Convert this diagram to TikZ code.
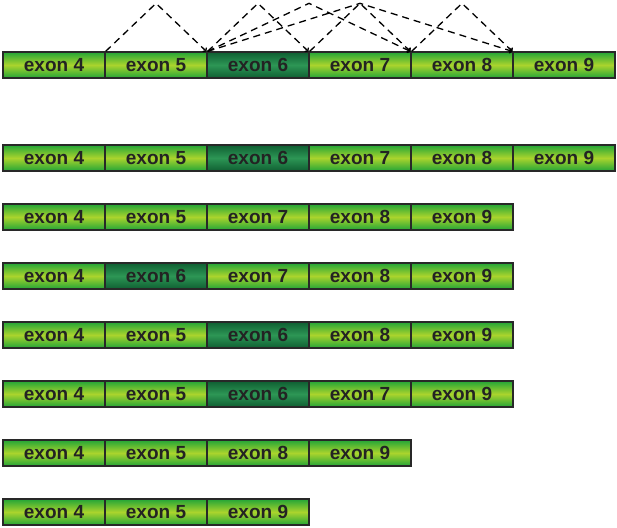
\documentclass[tikz,border=0pt]{standalone}
\usepackage{fontspec}
\setmainfont{Liberation Sans}
\usetikzlibrary{calc,arrows.meta}

\definecolor{exonedge}{RGB}{35,165,55}
\definecolor{exonmid}{RGB}{170,212,45}
\definecolor{darkedge}{RGB}{15,95,50}
\definecolor{darkmid}{RGB}{45,150,85}
\definecolor{exonline}{RGB}{40,40,40}
\definecolor{exontext}{RGB}{35,35,35}

\tikzset{
  exon/.style={draw=exonline, line width=1.3pt, minimum width=102pt,
    minimum height=26pt, inner sep=0pt,
    top color=exonedge, bottom color=exonedge, middle color=exonmid,
    text=exontext, font=\fontsize{19}{22}\selectfont\bfseries},
  ex6/.style={top color=darkedge, bottom color=darkedge, middle color=darkmid},
  splice/.style={dash pattern=on 7pt off 5pt, line width=1.3pt,
    -{To[length=3pt,width=6pt]}},
}

\begin{document}
\begin{tikzpicture}[x=1pt,y=-1pt]
\useasboundingbox (0,0) rectangle (617,527);

% exon rows
\foreach \y/\exons [count=\r] in {65/{4,5,6,7,8,9}, 158/{4,5,6,7,8,9},
    217/{4,5,7,8,9}, 276/{4,6,7,8,9}, 335/{4,5,6,8,9},
    394/{4,5,6,7,9}, 453/{4,5,8,9}, 512/{4,5,9}}
  \foreach \e [count=\i from 0] in \exons
    \node[exon, ex\e/.try] (row\r-\e) at ({54+102*\i},\y) {exon \e};

% splice junctions
\foreach \a/\b in {4/6, 5/7, 6/8, 7/9, 5/8, 5/9}
  \draw[splice] (row1-\a.north east)
     -- ($(row1-\a.north east)!.5!(row1-\b.north west)+(0,-48)$)
     -- (row1-\b.north west);
\end{tikzpicture}
\end{document}
